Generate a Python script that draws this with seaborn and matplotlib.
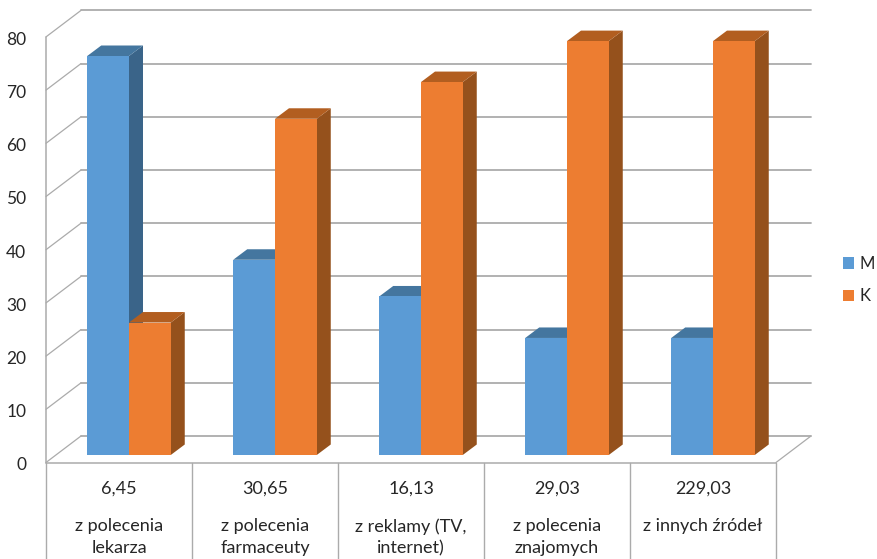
import matplotlib
matplotlib.use("Agg")
import matplotlib.pyplot as plt
import matplotlib.transforms as mtrans
from matplotlib.patches import Polygon
import pandas as pd
import seaborn as sns

categories = ["z polecenia\nlekarza", "z polecenia\nfarmaceuty", "z reklamy (TV,\ninternet)",
              "z polecenia\nznajomych", "z innych źródeł"]
table_values = ["6,45", "30,65", "16,13", "29,03", "229,03"]
m_values = [75, 36.7, 29.8, 22, 22]
k_values = [24.9, 63.2, 70.1, 77.8, 77.8]
y_ticks = [0, 10, 20, 30, 40, 50, 60, 70, 80]

sns.set_theme(style="white")
plt.rcParams["font.family"] = ["Lato", "DejaVu Sans"]
TXT = "#262626"
GRID = "#ABABAB"
styles = {"M": ("#5B9BD5", "#44769F", "#3A6489"), "K": ("#ED7D31", "#B25E20", "#95511C")}

df = pd.DataFrame({
    "cat": categories * 2,
    "val": m_values + k_values,
    "sex": ["M"] * 5 + ["K"] * 5,
})

fig = plt.figure(figsize=(8.77, 5.59), dpi=100)
ax = fig.add_axes([56 / 877, (559 - 455) / 559, 730 / 877, 425.6 / 559])
sns.barplot(data=df, x="cat", y="val", hue="sex", palette={k: v[0] for k, v in styles.items()},
            width=0.572, gap=0, saturation=1, ax=ax, legend=True, errorbar=None, linewidth=0)
ax.set_xlim(-0.5, 4.5)
ax.set_ylim(0, 80)
ax.set_xlabel("")
ax.set_ylabel("")
ax.set_xticks([])
sns.despine(ax=ax, left=True, bottom=True)

# pixels to data units
px = 1 / 146
py = 80 / 425.6


def line(xs, ys, **kw):
    ax.plot(xs, ys, color=GRID, lw=kw.pop("lw", 1.1), clip_on=False, zorder=1, **kw)


# walls: front plane and back plane are shifted from the bars' plane
fx0, fx1 = -0.5 - 10 * px, 4.5 - 10 * px
fy = -7.5 * py
bx0, bx1 = -0.5 + 25 * px, 4.5 + 25 * px
by = 19 * py
for t in y_ticks:
    line([bx0, bx1], [t + by, t + by], lw=1.3)
    line([fx0, bx0], [t + fy, t + by], lw=0.9)
line([fx0, fx0], [fy, 80 + fy])
line([fx1, bx1], [fy, by], lw=0.9)
line([fx0, fx1], [fy, fy])

# table under the chart
bottom = -104 * py
for i in range(6):
    line([fx0 + i, fx0 + i], [fy, bottom], lw=1.0)
ax.set_yticks(y_ticks)
ax.set_yticklabels(y_ticks, fontsize=12.5, color=TXT)
ax.tick_params(axis="y", length=0, pad=21.5)
shift = mtrans.ScaledTranslation(0, -0.09, fig.dpi_scale_trans)
for lab in ax.get_yticklabels():
    lab.set_transform(lab.get_transform() + shift)

for i in range(5):
    cx = i - 10 * px
    ax.text(cx, -34 * py, table_values[i], ha="center", va="center", fontsize=13, color=TXT)
    ax.text(cx, -63.5 * py, categories[i], ha="center", va="top", fontsize=13, color=TXT, linespacing=1.42)

# 3D sides and tops from the drawn bars
dx, dy = 14 * px, 10.5 * py
for n, (name, cont) in enumerate(zip(["M", "K"], ax.containers)):
    front, top_c, side_c = styles[name]
    for bar in cont:
        x0 = bar.get_x()
        x1 = x0 + bar.get_width()
        h = bar.get_height()
        bar.set_zorder(3 + 2 * n)
        ax.add_patch(Polygon([(x1, 0), (x1 + dx, dy), (x1 + dx, h + dy), (x1, h)],
                             fc=side_c, ec="none", clip_on=False, zorder=2 + 2 * n))
        ax.add_patch(Polygon([(x0, h), (x0 + dx, h + dy), (x1 + dx, h + dy), (x1, h)],
                             fc=top_c, ec="none", clip_on=False, zorder=2 + 2 * n))

handles, labels = ax.get_legend_handles_labels()
leg = ax.legend(handles, labels, loc="center left", bbox_to_anchor=(787 / 730, (455 - 280) / 425.6),
                frameon=False, fontsize=12, handlelength=0.68, handleheight=0.68,
                handletextpad=0.3, labelspacing=0.98, borderpad=0, borderaxespad=0, labelcolor=TXT)

fig.savefig("out.png", dpi=100, facecolor="white")
